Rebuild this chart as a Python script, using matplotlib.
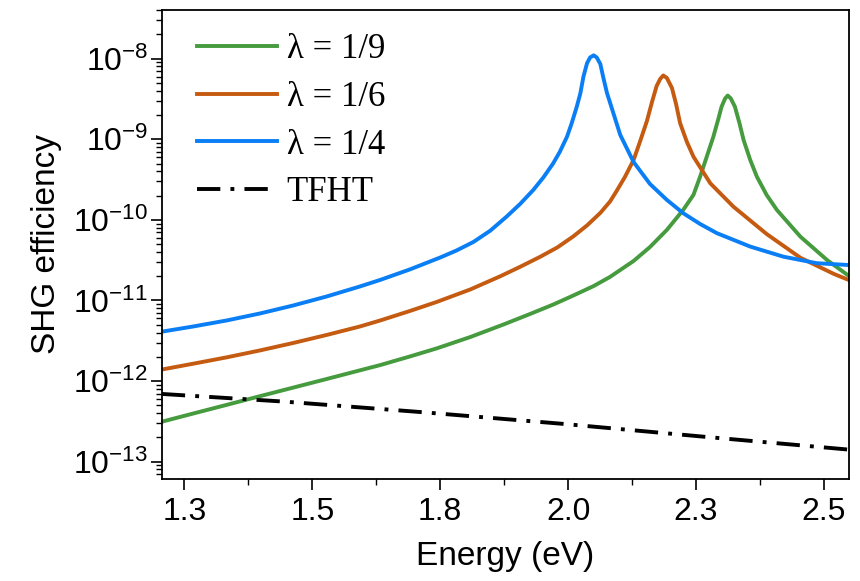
import numpy as np
import matplotlib.pyplot as plt
from matplotlib.ticker import LogLocator, NullFormatter, FixedLocator

plt.rcParams['font.family'] = ['Liberation Sans', 'DejaVu Sans']
plt.rcParams['mathtext.default'] = 'regular'

# SHG efficiency vs photon energy for three lambda values and the TFHT reference
energy_1_9 = [1.206, 1.267, 1.333, 1.398, 1.463, 1.528, 1.633, 1.691, 1.743, 1.809,
              1.874, 1.926, 1.971, 2.010, 2.050, 2.082, 2.128, 2.160, 2.193, 2.225,
              2.245, 2.258, 2.271, 2.284, 2.294, 2.300, 2.307, 2.312, 2.318, 2.326,
              2.335, 2.343, 2.356, 2.369, 2.388, 2.408, 2.454, 2.506, 2.549]
eff_1_9 = [3.13e-13, 3.95e-13, 5.07e-13, 6.50e-13, 8.30e-13, 1.06e-12, 1.58e-12, 2.02e-12,
           2.54e-12, 3.52e-12, 5.04e-12, 6.81e-12, 8.90e-12, 1.15e-11, 1.51e-11, 1.96e-11,
           3.09e-11, 4.60e-11, 7.50e-11, 1.33e-10, 2.04e-10, 3.43e-10, 6.08e-10, 1.08e-9,
           1.82e-9, 2.54e-9, 3.21e-9, 3.49e-9, 3.21e-9, 2.54e-9, 1.58e-9, 9.8e-10,
           5.53e-10, 3.43e-10, 2.04e-10, 1.33e-10, 6.19e-11, 3.18e-11, 2.01e-11]

energy_1_6 = [1.206, 1.267, 1.333, 1.398, 1.463, 1.528, 1.593, 1.633, 1.691, 1.743,
              1.809, 1.867, 1.906, 1.945, 1.979, 2.010, 2.037, 2.063, 2.082, 2.095,
              2.111, 2.128, 2.141, 2.154, 2.164, 2.173, 2.180, 2.186, 2.193, 2.203,
              2.211, 2.219, 2.232, 2.245, 2.278, 2.323, 2.388, 2.454, 2.519, 2.549]
eff_1_6 = [1.39e-12, 1.64e-12, 1.97e-12, 2.40e-12, 2.97e-12, 3.73e-12, 4.75e-12, 5.65e-12,
           7.41e-12, 9.57e-12, 1.37e-11, 1.99e-11, 2.61e-11, 3.47e-11, 4.55e-11, 6.22e-11,
           8.53e-11, 1.22e-10, 1.69e-10, 2.29e-10, 3.40e-10, 5.53e-10, 9.53e-10, 1.68e-9,
           2.90e-9, 4.58e-9, 5.60e-9, 6.19e-9, 5.77e-9, 4.33e-9, 2.74e-9, 1.58e-9,
           9.33e-10, 6.08e-10, 2.84e-10, 1.46e-10, 6.68e-11, 3.39e-11, 2.14e-11, 1.79e-11]

energy_1_4 = [1.206, 1.267, 1.333, 1.398, 1.463, 1.528, 1.593, 1.633, 1.691, 1.750,
              1.782, 1.815, 1.848, 1.880, 1.906, 1.932, 1.952, 1.971, 1.984, 1.998,
              2.007, 2.017, 2.024, 2.030, 2.037, 2.043, 2.050, 2.056, 2.063, 2.069,
              2.076, 2.089, 2.102, 2.128, 2.160, 2.193, 2.225, 2.258, 2.291, 2.356,
              2.421, 2.486, 2.549]
eff_1_4 = [4.10e-12, 4.75e-12, 5.65e-12, 6.90e-12, 8.67e-12, 1.12e-11, 1.49e-11, 1.80e-11,
           2.43e-11, 3.41e-11, 4.17e-11, 5.32e-11, 7.35e-11, 1.10e-10, 1.57e-10, 2.35e-10,
           3.38e-10, 5.04e-10, 7.02e-10, 1.08e-9, 1.58e-9, 2.54e-9, 3.72e-9, 5.98e-9,
           8.77e-9, 1.035e-8, 1.10e-8, 1.035e-8, 8.59e-9, 5.77e-9, 3.75e-9, 2.06e-9,
           1.13e-9, 5.22e-10, 2.79e-10, 1.77e-10, 1.21e-10, 8.89e-11, 6.83e-11, 4.66e-11,
           3.49e-11, 2.90e-11, 2.75e-11]

energy_tfht = [1.206, 1.447, 1.717, 1.991, 2.265, 2.538, 2.549]
eff_tfht = [6.92e-13, 5.55e-13, 4.10e-13, 2.94e-13, 2.04e-13, 1.43e-13, 1.41e-13]

xticks = [1.25, 1.5, 1.75, 2.0, 2.25, 2.5]
xtick_labels = ['1.3', '1.5', '1.8', '2.0', '2.3', '2.5']
xminor = [1.375, 1.625, 1.875, 2.125, 2.375]

fig = plt.figure(figsize=(8.6, 5.81), dpi=100)
ax = fig.add_axes([0.1884, 0.1756, 0.7988, 0.8072])

lw = 2.8
ax.plot(energy_1_9, eff_1_9, color='#459B3E', lw=lw, label='λ = 1/9')
ax.plot(energy_1_6, eff_1_6, color='#C55A11', lw=lw, label='λ = 1/6')
ax.plot(energy_1_4, eff_1_4, color='#0A7EF5', lw=lw, label='λ = 1/4')
ax.plot(energy_tfht, eff_tfht, color='black', lw=lw,
        linestyle=(0, (6.0, 2.6, 1.0, 2.6)), label='TFHT')

ax.set_yscale('log')
ax.set_xlim(1.2064, 2.549)
ax.set_ylim(10**-13.215, 10**-7.396)

ax.xaxis.set_major_locator(FixedLocator(xticks))
ax.set_xticklabels(xtick_labels)
ax.xaxis.set_minor_locator(FixedLocator(xminor))
ax.yaxis.set_major_locator(LogLocator(base=10, numticks=20))
ax.yaxis.set_minor_locator(LogLocator(base=10, subs=np.arange(2, 10), numticks=20))
ax.yaxis.set_minor_formatter(NullFormatter())

ax.tick_params(which='major', direction='out', length=8, width=1.2, labelsize=23)
ax.tick_params(axis='x', which='major', pad=5)
ax.tick_params(axis='y', which='major', pad=2)
ax.tick_params(which='minor', direction='out', length=4, width=1.0)
for spine in ax.spines.values():
    spine.set_linewidth(1.3)

ax.set_xlabel('Energy (eV)', fontsize=24, labelpad=10)
ax.set_ylabel('SHG efficiency', fontsize=24, labelpad=8)

ax.legend(loc='upper left', bbox_to_anchor=(0.051, 0.950), frameon=False,
          borderpad=0, borderaxespad=0, handlelength=2.3, handletextpad=0.28,
          labelspacing=0.42, prop={'family': ['Liberation Serif', 'DejaVu Serif'], 'size': 25})

fig.savefig('out.png', dpi=100, facecolor='white')
